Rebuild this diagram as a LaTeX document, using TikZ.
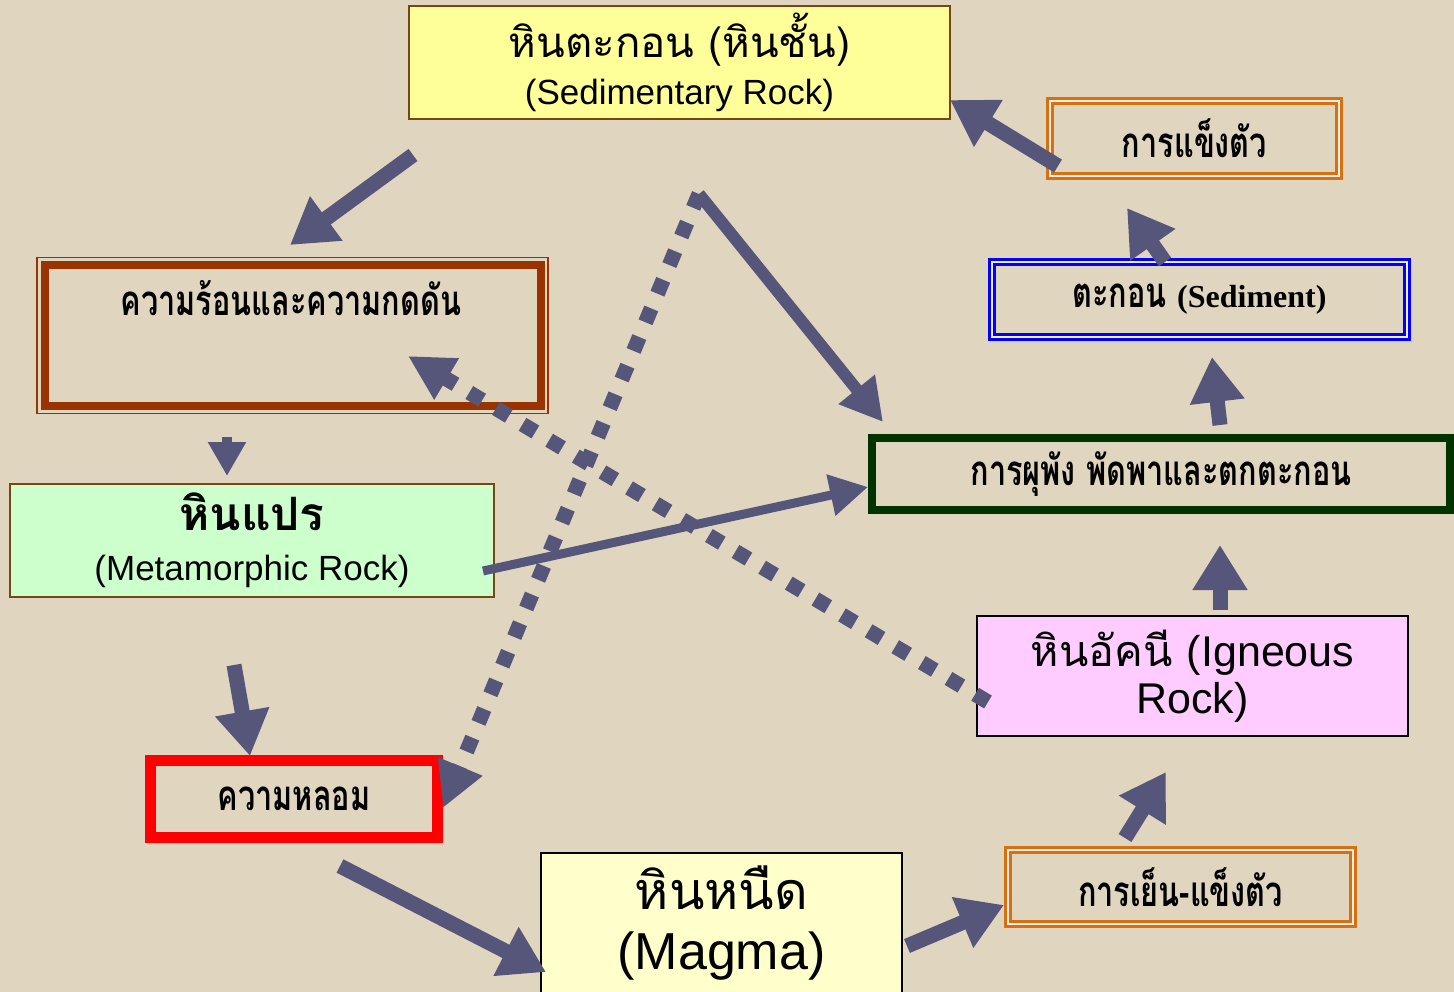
\documentclass[tikz,border=0pt]{standalone}
\usepackage{fontspec}
\setmainfont{Liberation Sans}
\newfontfamily\thaisans[Script=Thai]{Loma}
\newfontfamily\thaibold[Script=Thai,FakeStretch=0.73]{Loma}
\newfontfamily\timesbf{Liberation Serif}
\usetikzlibrary{arrows.meta}

\definecolor{paper}{RGB}{224,214,191}
\definecolor{slate}{RGB}{86,86,122}
\definecolor{boxbrown}{RGB}{120,70,20}
\definecolor{rustbrown}{RGB}{153,51,0}
\definecolor{amber}{RGB}{214,112,16}
\definecolor{pine}{RGB}{0,51,0}
\definecolor{lemon}{RGB}{255,255,153}
\definecolor{mint}{RGB}{204,255,204}
\definecolor{orchid}{RGB}{255,204,255}
\definecolor{cream}{RGB}{255,255,204}

\tikzset{
	rockbox/.style={draw=boxbrown, line width=1.5pt, align=center, inner sep=0pt, outer sep=0pt},
	twinbox/.style={draw=#1, line width=2.5pt, double=paper!40!white, double distance=2.5pt, inner sep=0pt, outer sep=0pt},
	heavybox/.style={draw=#1, inner sep=0pt, outer sep=0pt},
	steplabel/.style={font=\thaibold\bfseries\fontsize{42}{46}\selectfont},
	cyclearrow/.style={slate, line width=15pt, -{Triangle[length=45pt,width=52pt]}},
	thinarrow/.style={slate, line width=9pt, -{Triangle[length=38pt,width=40pt]}},
	dotarrow/.style={slate, line width=15pt, dash pattern=on 15pt off 16pt, -{Triangle[length=45pt,width=45pt]}}
}

\begin{document}
\begin{tikzpicture}[x=1pt,y=-1pt]
	\useasboundingbox (0,0) rectangle (1454,992);
	\fill[paper] (0,0) rectangle (1454,992);
	\clip (0,0) rectangle (1454,992);

	% rock boxes
	\node[rockbox, fill=lemon, minimum width=541, minimum height=113, font=\fontsize{35}{47}\selectfont] (sedim) at (679.5,62.5)
		{{\thaisans\fontsize{42}{47}\selectfont หินตะกอน (หินชั้น)}\\(Sedimentary Rock)};
	\node[rockbox, fill=mint, minimum width=484, minimum height=113, font=\fontsize{35}{50}\selectfont] (meta) at (252,540.5)
		{{\thaisans\bfseries\fontsize{46}{50}\selectfont หินแปร}\\(Metamorphic Rock)};
	\node[rockbox, draw=black, fill=orchid, minimum width=431, minimum height=120, font=\fontsize{43}{47}\selectfont] (igne) at (1192.5,676)
		{{\thaisans หินอัคนี }(Igneous\\Rock)};
	\node[rockbox, draw=black, fill=cream, minimum width=361, minimum height=140, font=\fontsize{52}{60}\selectfont] (magma) at (721.5,923)
		{{\thaisans หินหนืด}\\(Magma)};

	% process boxes
	\node[heavybox=rustbrown, line width=8pt, minimum width=496, minimum height=141] (heat) at (292.5,335.5) {};
	\draw[rustbrown, line width=1.5pt] ([shift={(-7.5,-7.5)}]heat.north west) rectangle ([shift={(7.5,7.5)}]heat.south east);
	\node[steplabel] (heatlbl) at (291,298) {ความร้อนและความกดดัน};
	\node[heavybox=red, line width=11pt, minimum width=287, minimum height=77, steplabel] (melt) at (294,799) {ความหลอม};
	\node[heavybox=pine, line width=8pt, minimum width=578, minimum height=72, steplabel] (erode) at (1161,474) {การผุพัง พัดพาและตกตะกอน};
	\node[twinbox=blue, minimum width=415, minimum height=75, steplabel] (sedmt) at (1199.5,299.5)
		{ตะกอน {\timesbf\bfseries\fontsize{32}{36}\selectfont (Sediment)}};
	\node[twinbox=amber, minimum width=289, minimum height=75, steplabel] (harden) at (1194.5,138.5) {การแข็งตัว};
	\node[twinbox=amber, minimum width=345, minimum height=74, steplabel] (cool) at (1180.5,887) {การเย็น-แข็งตัว};

	% arrow ends
	\coordinate (a0) at (413,155);  \coordinate (a1) at (290,245);
	\coordinate (b0) at (227,437);  \coordinate (b1) at (227,476);
	\coordinate (c0) at (234,665);  \coordinate (c1) at (250,756);
	\coordinate (d0) at (340,866);  \coordinate (d1) at (546,972);
	\coordinate (e0) at (907,946);  \coordinate (e1) at (1004,905);
	\coordinate (f0) at (1125,838); \coordinate (f1) at (1166,772);
	\coordinate (g0) at (1220,610); \coordinate (g1) at (1220,545);
	\coordinate (h0) at (1220,425); \coordinate (h1) at (1212,357);
	\coordinate (i0) at (1165,262); \coordinate (i1) at (1127,208);
	\coordinate (j0) at (1058,166); \coordinate (j1) at (950,100);
	\coordinate (k0) at (483,571);  \coordinate (k1) at (868,487);
	\coordinate (apex) at (699,194);
	\coordinate (l1) at (883,422);
	\coordinate (m1) at (443,808);
	\coordinate (n0) at (988,702);  \coordinate (n1) at (408,356);

	% cycle arrows
	\draw[cyclearrow] (a0) -- (a1);
	\draw[slate, line width=10pt, -{Triangle[length=34pt,width=36pt]}] (b0) -- (b1);
	\draw[cyclearrow] (c0) -- (c1);
	\draw[cyclearrow] (d0) -- (d1);
	\draw[cyclearrow] (e0) -- (e1);
	\draw[cyclearrow] (f0) -- (f1);
	\draw[cyclearrow] (g0) -- (g1);
	\draw[cyclearrow] (h0) -- (h1);
	\draw[cyclearrow] (i0) -- (i1);
	\draw[cyclearrow] (j0) -- (j1);
	\draw[thinarrow] (k0) -- (k1);
	\draw[slate, line width=12pt, -{Triangle[length=42pt,width=44pt]}] (apex) -- (l1);

	% dotted short cuts
	\draw[dotarrow] (apex) -- (m1);
	\draw[dotarrow] (n0) -- (n1);
\end{tikzpicture}
\end{document}
